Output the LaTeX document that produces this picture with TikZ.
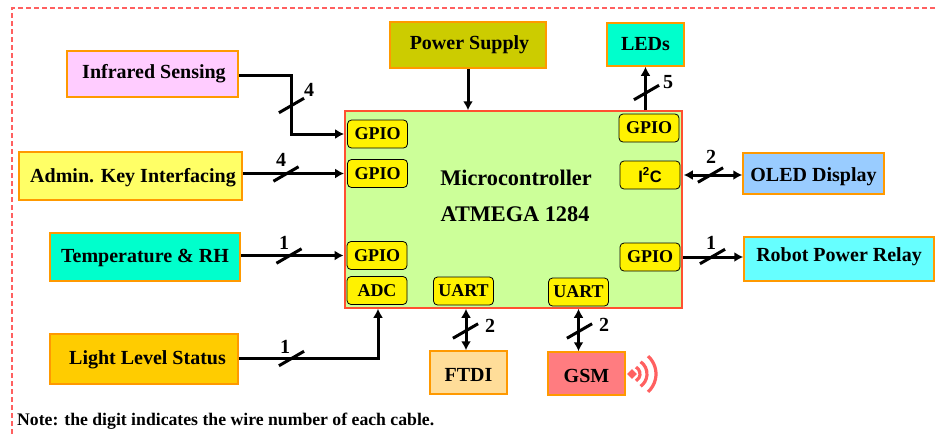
\documentclass[tikz,border=0pt]{standalone}
\usepackage{fontspec}
\usepackage{tikz}
\usetikzlibrary{arrows.meta,shapes.geometric}
\setmainfont{Liberation Serif}
\setsansfont{Liberation Sans}
\definecolor{boxedge}{HTML}{FF9900}
\definecolor{mcuedge}{HTML}{FF5030}
\definecolor{wavered}{HTML}{FF6060}
\definecolor{mcufill}{HTML}{CCFF99}
\definecolor{irfill}{HTML}{FFCCFF}
\definecolor{keyfill}{HTML}{FFFF66}
\definecolor{tealfill}{HTML}{00FFCC}
\definecolor{lightfill}{HTML}{FFCC00}
\definecolor{powerfill}{HTML}{CCCC00}
\definecolor{oledfill}{HTML}{99CCFF}
\definecolor{relayfill}{HTML}{66FFFF}
\definecolor{ftdifill}{HTML}{FFDD99}
\definecolor{gsmfill}{HTML}{FF7C80}
\newcommand{\nudge}[2]{\raisebox{#1}[\height][\depth]{#2}}
\tikzset{
  block/.style={draw=boxedge,line width=1.5pt,inner sep=0pt,font=\fontsize{20}{22}\selectfont\bfseries},
  port/.style={draw=black,fill=yellow,rounded corners=4pt,line width=0.8pt,minimum width=60pt,minimum height=28pt,inner sep=0pt,font=\fontsize{18}{20}\selectfont\bfseries},
  wire/.style={line width=3pt,-{Latex[length=9pt,width=10pt]}},
  bothwire/.style={line width=3pt,{Latex[length=9pt,width=10pt]}-{Latex[length=9pt,width=10pt]}},
  wirecut/.style={fill=black,inner sep=0pt,minimum width=29pt,minimum height=3pt,rotate=30},
  digit/.style={inner sep=0pt,font=\fontsize{20}{22}\selectfont\bfseries},
  title/.style={inner sep=0pt,font=\fontsize{22.3}{25}\selectfont\bfseries}
}
\begin{document}
\begin{tikzpicture}[x=1pt,y=-1pt]
\useasboundingbox (0,0) rectangle (937,434);
% frame round the picture
\coordinate (framea) at (12,434);
\coordinate (frameb) at (12,8);
\coordinate (framec) at (937,8);
\draw[wavered,dash pattern=on 5pt off 3pt,line width=1.5pt] (framea) -- (frameb) -- (framec);
% microcontroller
\node[draw=mcuedge,fill=mcufill,line width=1.5pt,minimum width=337pt,minimum height=197pt,inner sep=0pt] (mcu) at (513.5,209.5) {};
\node[title] (mcuname) at (516,178) {Microcontroller};
\node[title] (mcuchip) at (515,214) {ATMEGA 1284};
% ports
\node[port] (gpioa) at (377.5,134) {GPIO};
\node[port] (gpiob) at (377.5,173.5) {GPIO};
\node[port] (gpioc) at (377,255.5) {GPIO};
\node[port] (adc) at (377,290.5) {ADC};
\node[port] (uarta) at (463.5,291) {UART};
\node[port] (uartb) at (578.5,292) {UART};
\node[port] (gpiod) at (649,128) {GPIO};
\node[port,font=\fontsize{16.5}{18}\selectfont\sffamily\bfseries] (iic) at (650,175) {I\textsuperscript{2}C};
\node[port] (gpioe) at (650,257) {GPIO};
% outer blocks
\node[block,fill=irfill,minimum width=171pt,minimum height=46pt] (ir) at (152.5,74) {\hspace*{3pt}Infrared Sensing};
\node[block,fill=keyfill,minimum width=223pt,minimum height=48pt] (key) at (130.5,176) {\hspace*{5pt}\nudge{-2pt}{Admin. Key Interfacing}};
\node[block,fill=tealfill,minimum width=190pt,minimum height=48pt] (temp) at (145,257) {\nudge{-1pt}{Temperature \& RH}};
\node[block,fill=lightfill,minimum width=188pt,minimum height=50pt] (light) at (144,359) {\hspace*{7pt}\nudge{-1pt}{Light Level Status}};
\node[block,fill=powerfill,minimum width=156pt,minimum height=46pt] (power) at (468,45) {\hspace*{3pt}Power Supply};
\node[block,fill=tealfill,minimum width=77pt,minimum height=43pt] (leds) at (645.5,44.5) {LEDs};
\node[block,fill=oledfill,minimum width=141pt,minimum height=41pt] (oled) at (813.5,173.5) {\nudge{-3pt}{OLED Display}};
\node[block,fill=relayfill,minimum width=190pt,minimum height=44pt] (relay) at (839,259) {\nudge{2pt}{Robot Power Relay}};
\node[block,fill=ftdifill,minimum width=77pt,minimum height=43pt] (ftdi) at (468.5,372.5) {\nudge{-2pt}{FTDI}};
\node[block,fill=gsmfill,minimum width=77pt,minimum height=43pt] (gsm) at (586.5,373.5) {\nudge{-2pt}{GSM}};
% wires
\coordinate (irbend) at (291,75);
\coordinate (lightbend) at (378,358);
\draw[wire,shorten >=3pt] (ir.east |- irbend) -- (irbend) |- (gpioa.west);
\draw[wire,shorten >=3pt] (key.east |- gpiob.west) -- (gpiob.west);
\draw[wire,shorten >=3pt] (temp.east |- gpioc.west) -- (gpioc.west);
\draw[wire] (light.east |- lightbend) -- (lightbend) -- (lightbend |- mcu.south);
\draw[wire] (power.south) -- (mcu.north -| power.south);
\draw[wire] (mcu.north -| leds.south) -- (leds.south);
\draw[bothwire,shorten <=1pt] (mcu.east |- iic.east) -- (oled.west |- iic.east);
\draw[wire] (mcu.east |- gpioe.east) -- (relay.west |- gpioe.east);
\coordinate (ftdiline) at (466,330);
\draw[bothwire] (mcu.south -| ftdiline) -- (ftdi.north -| ftdiline);
\draw[bothwire] (mcu.south -| uartb.south) -- (gsm.north -| uartb.south);
% wire counts
\node[wirecut] (cuta) at (291.5,105.5) {};
\node[digit] (numa) at (309,90) {4};
\node[wirecut] (cutb) at (286,174) {};
\node[digit] (numb) at (281,160) {4};
\node[wirecut] (cutc) at (289,256) {};
\node[digit] (numc) at (284,243) {1};
\node[wirecut] (cutd) at (291.5,358.5) {};
\node[digit] (numd) at (285,347) {1};
\node[wirecut] (cute) at (646.5,92.5) {};
\node[digit] (nume) at (668,82) {5};
\node[wirecut] (cutf) at (710.5,175) {};
\node[digit] (numf) at (711,157) {2};
\node[wirecut] (cutg) at (712.5,256.5) {};
\node[digit] (numg) at (711,243) {1};
\node[wirecut] (cuth) at (465.5,331) {};
\node[digit] (numh) at (490,326) {2};
\node[wirecut] (cuti) at (579.5,331) {};
\node[digit] (numi) at (604,325) {2};
% radio waves next to GSM
\node[fill=wavered,diamond,inner sep=0pt,minimum size=10pt] (wavedot) at (632,374) {};
\foreach \r/\a in {8/60,15/55,24/48}
  \draw[wavered,line width=3.2pt] (wavedot.center) ++(-\a:\r) arc[start angle=-\a,end angle=\a,radius=\r];
% note line
\node[anchor=west,inner sep=0pt,font=\fontsize{17.7}{20}\selectfont\bfseries] (note) at (17,421.5) {Note: the digit indicates the wire number of each cable.};
\end{tikzpicture}
\end{document}
